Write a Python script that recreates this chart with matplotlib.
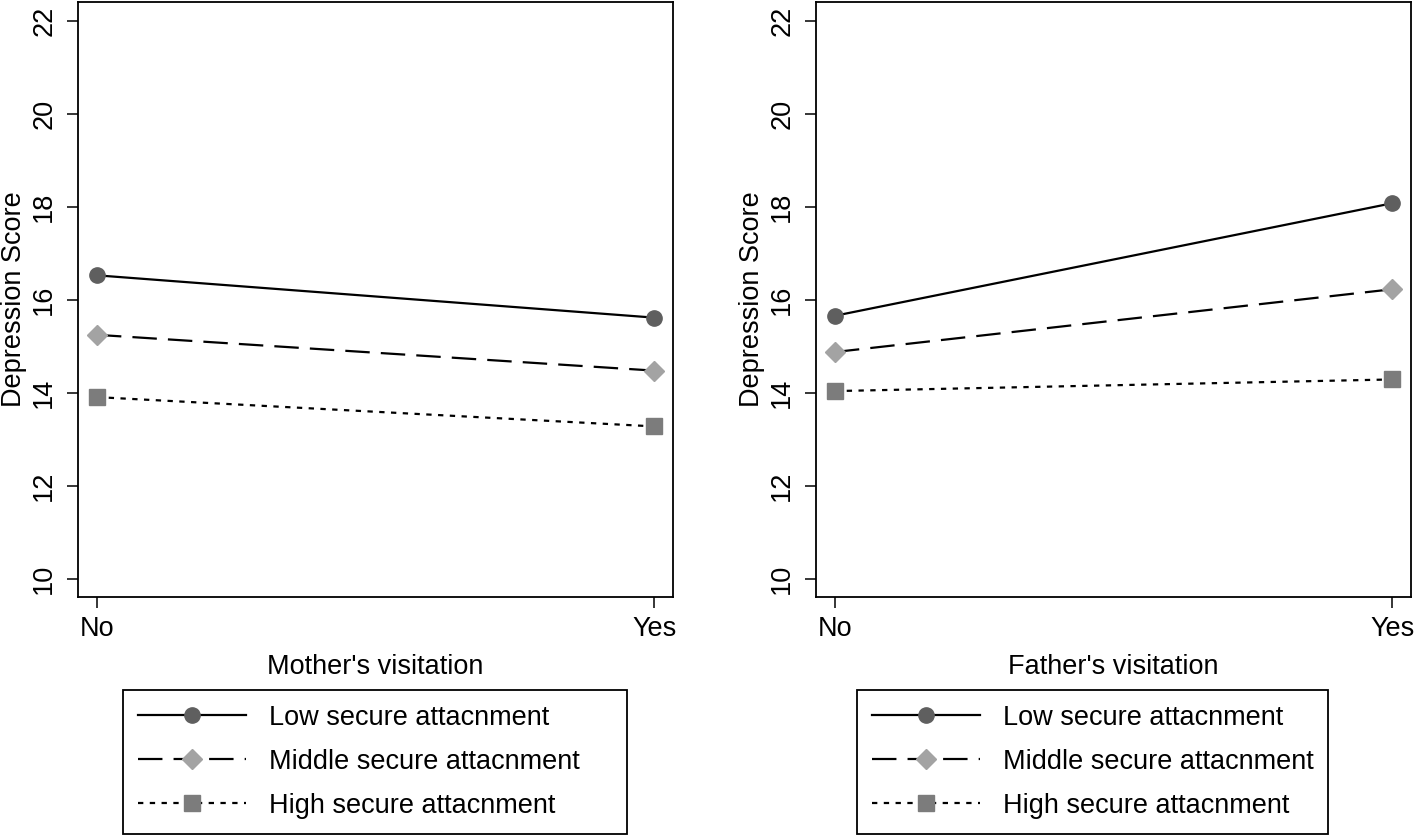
import matplotlib
matplotlib.use("Agg")
import matplotlib.pyplot as plt

plt.rcParams["font.family"] = ["Liberation Sans", "DejaVu Sans"]

# data
visit = ["No", "Yes"]
groups = ["Low secure attacnment", "Middle secure attacnment", "High secure attacnment"]
mother_low = [16.53, 15.62]
mother_mid = [15.25, 14.48]
mother_high = [13.91, 13.28]
father_low = [15.66, 18.08]
father_mid = [14.88, 16.23]
father_high = [14.04, 14.29]

yticks = [10, 12, 14, 16, 18, 20, 22]

styles = [
    dict(color="black", linestyle="-", marker="o", markersize=11,
         markerfacecolor="#5f5f5f", markeredgecolor="#5f5f5f"),
    dict(color="black", linestyle=(0, (11, 5)), marker="D", markersize=10,
         markerfacecolor="#a3a3a3", markeredgecolor="#a3a3a3"),
    dict(color="black", linestyle=(0, (2.4, 2.9)), marker="s", markersize=11,
         markerfacecolor="#7c7c7c", markeredgecolor="#7c7c7c"),
]

fs = 19.5
fig = plt.figure(figsize=(14.18, 8.35), dpi=100)

panels = [
    (78, "Mother's visitation", [mother_low, mother_mid, mother_high], 123, 504),
    (816, "Father's visitation", [father_low, father_mid, father_high], 857, 471),
]

for left_px, xlab, series, leg_x, leg_w in panels:
    ax = fig.add_axes([left_px / 1418, 1 - 597 / 835, 595 / 1418, 595 / 835])
    handles = []
    for vals, st in zip(series, styles):
        h, = ax.plot([0, 1], vals, linewidth=1.6, **st)
        handles.append(h)
    ax.set_xlim(-0.034, 1.034)
    ax.set_ylim(9.61, 22.41)
    ax.set_xticks([0, 1])
    ax.set_xticklabels(visit, fontsize=fs)
    ax.set_yticks(yticks)
    ax.set_yticklabels([str(t) for t in yticks], fontsize=fs, rotation=90, va="center")
    ax.tick_params(axis="both", direction="out", length=8, width=1.1, color="black")
    ax.tick_params(axis="y", pad=7)
    ax.tick_params(axis="x", pad=6)
    for sp in ax.spines.values():
        sp.set_linewidth(1.3)
    ax.set_ylabel("Depression Score", fontsize=fs, labelpad=3)
    ax.set_xlabel(xlab, fontsize=fs, labelpad=8)

    fig.legend(handles, groups, loc="upper left",
               bbox_to_anchor=(leg_x / 1418, 0.0, leg_w / 1418, 1 - 690 / 835),
               mode="expand", borderaxespad=0, fontsize=fs, handlelength=4.0,
               handletextpad=0.85, labelspacing=0.66, borderpad=0.55,
               numpoints=1, fancybox=False, edgecolor="black", framealpha=1)

for lg in fig.legends:
    lg.get_frame().set_linewidth(1.3)

fig.savefig("out.png", dpi=100)
